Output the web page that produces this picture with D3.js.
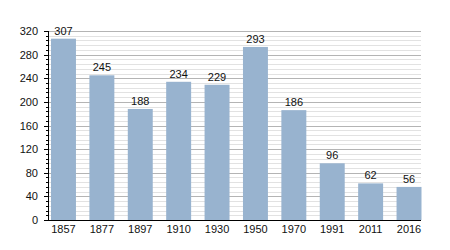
<!DOCTYPE html>
<html><head><meta charset="utf-8">
<script src="https://cdn.jsdelivr.net/npm/d3@7"></script>
<style>body{margin:0;background:#fff}svg{display:block;font-family:"Liberation Sans",Arial,sans-serif}</style>
</head><body>
<script>
const years = ["1857","1877","1897","1910","1930","1950","1970","1991","2011","2016"];
const population = [307,245,188,234,229,293,186,96,62,56];
const yTicks = [0,40,80,120,160,200,240,280,320];

const W=450,H=250;
const svg=d3.select("body").append("svg").attr("width",W).attr("height",H);
const x=d3.scaleBand().domain(years).range([51,421.5]).paddingInner(0.35).paddingOuter(0);
const y=d3.scaleLinear().domain([0,320]).range([220,31]);
const xl=48, xr=421;

const minor=d3.range(0,321,8).filter(v=>v%40!==0);
svg.append("g").selectAll("line").data(minor).join("line")
 .attr("x1",xl).attr("x2",xr).attr("y1",d=>Math.round(y(d))+0.5).attr("y2",d=>Math.round(y(d))+0.5)
 .attr("stroke","#e2e2e2").attr("stroke-width",1);
svg.append("g").selectAll("line").data(yTicks.filter(v=>v>0)).join("line")
 .attr("x1",xl).attr("x2",xr).attr("y1",d=>Math.round(y(d))+0.5).attr("y2",d=>Math.round(y(d))+0.5)
 .attr("stroke","#b4b4b4").attr("stroke-width",1);

svg.append("g").selectAll("rect").data(population).join("rect")
 .attr("x",(d,i)=>x(years[i])).attr("width",x.bandwidth())
 .attr("y",d=>y(d)).attr("height",d=>y(0)-y(d)).attr("fill","#98b3cf");

svg.append("g").selectAll("text").data(population).join("text")
 .attr("x",(d,i)=>x(years[i])+x.bandwidth()/2).attr("y",d=>y(d)-4)
 .attr("text-anchor","middle").attr("font-size",11).attr("fill","#111").text(d=>d);

// y axis
const ya=svg.append("g");
ya.append("line").attr("x1",xl+0.5).attr("x2",xl+0.5).attr("y1",31).attr("y2",220).attr("stroke","#000");
ya.selectAll(".mt").data(minor).join("line").attr("class","mt")
 .attr("x1",xl-2).attr("x2",xl).attr("y1",d=>Math.round(y(d))+0.5).attr("y2",d=>Math.round(y(d))+0.5).attr("stroke","#000");
ya.selectAll(".Mt").data(yTicks).join("line").attr("class","Mt")
 .attr("x1",xl-4).attr("x2",xl).attr("y1",d=>Math.round(y(d))+0.5).attr("y2",d=>Math.round(y(d))+0.5).attr("stroke","#000");
ya.selectAll("text").data(yTicks).join("text")
 .attr("x",38).attr("y",d=>y(d)+4).attr("text-anchor","end").attr("font-size",11).attr("fill","#111").text(d=>d);

// x axis
svg.append("line").attr("x1",xl).attr("x2",xr).attr("y1",220.5).attr("y2",220.5).attr("stroke","#000");
svg.append("g").selectAll("text").data(years).join("text")
 .attr("x",d=>x(d)+x.bandwidth()/2).attr("y",233).attr("text-anchor","middle").attr("font-size",11).attr("fill","#111").text(d=>d);
</script>
</body></html>
